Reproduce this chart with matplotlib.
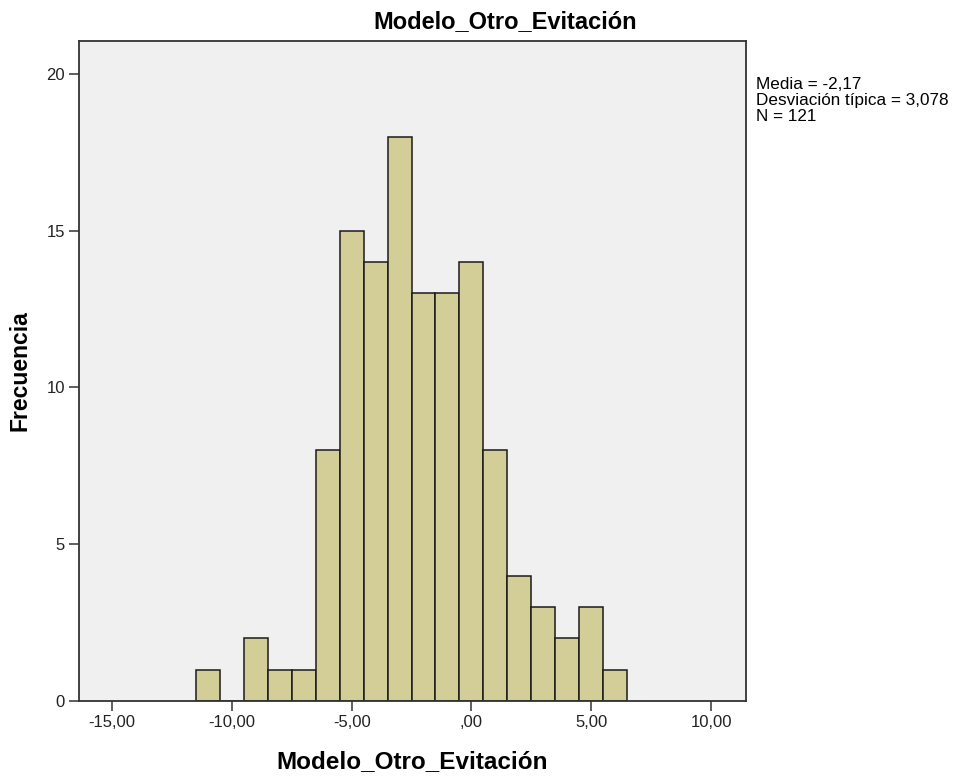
import numpy as np
from matplotlib import pyplot as plt

plt.rcParams['font.family'] = ['Liberation Sans', 'DejaVu Sans']

# histogram bins (width 1, centred on integers) and their counts
bin_centers = [-11, -10, -9, -8, -7, -6, -5, -4, -3, -2, -1, 0, 1, 2, 3, 4, 5, 6]
counts = [1, 0, 2, 1, 1, 8, 15, 14, 18, 13, 13, 14, 8, 4, 3, 2, 3, 1]

x_ticks = [-15, -10, -5, 0, 5, 10]
x_tick_labels = ['-15,00', '-10,00', '-5,00', ',00', '5,00', '10,00']
y_ticks = [0, 5, 10, 15, 20]

title = 'Modelo_Otro_Evitación'
stats = 'Media = -2,17\nDesviación típica = 3,078\nN = 121'

fig = plt.figure(figsize=(9.54, 7.77), dpi=100)
ax = fig.add_axes([0.0825, 0.0978, 0.699, 0.8494])
ax.set_facecolor('#f0f0f0')

ax.bar(bin_centers, counts, width=1.0, align='center',
       color='#d3ce97', edgecolor='#1a1a1a', linewidth=1.1)

ax.set_xlim(-16.39, 11.44)
ax.set_ylim(0, 21.05)
ax.set_xticks(x_ticks)
ax.set_xticklabels(x_tick_labels)
ax.set_yticks(y_ticks)
ax.tick_params(axis='both', labelsize=12, length=7, width=1.1,
               color='#333333', labelcolor='#222222', pad=3)
for s in ax.spines.values():
    s.set_linewidth(1.3)
    s.set_color('#333333')

ax.set_xlabel(title, fontsize=17.5, fontweight='bold', va='center')
ax.xaxis.set_label_coords(0.5, -0.0924)
ax.set_ylabel('Frecuencia', fontsize=16.5, fontweight='bold', va='center')
ax.yaxis.set_label_coords(-0.088, 0.5)

fig.text(505 / 954, 1 - 22 / 777, title, fontsize=17, fontweight='bold',
         ha='center', va='center')
fig.text(756 / 954, 1 - 77 / 777, stats, fontsize=12.3, ha='left', va='top',
         linespacing=1.1)

plt.savefig('out.png', dpi=100)
